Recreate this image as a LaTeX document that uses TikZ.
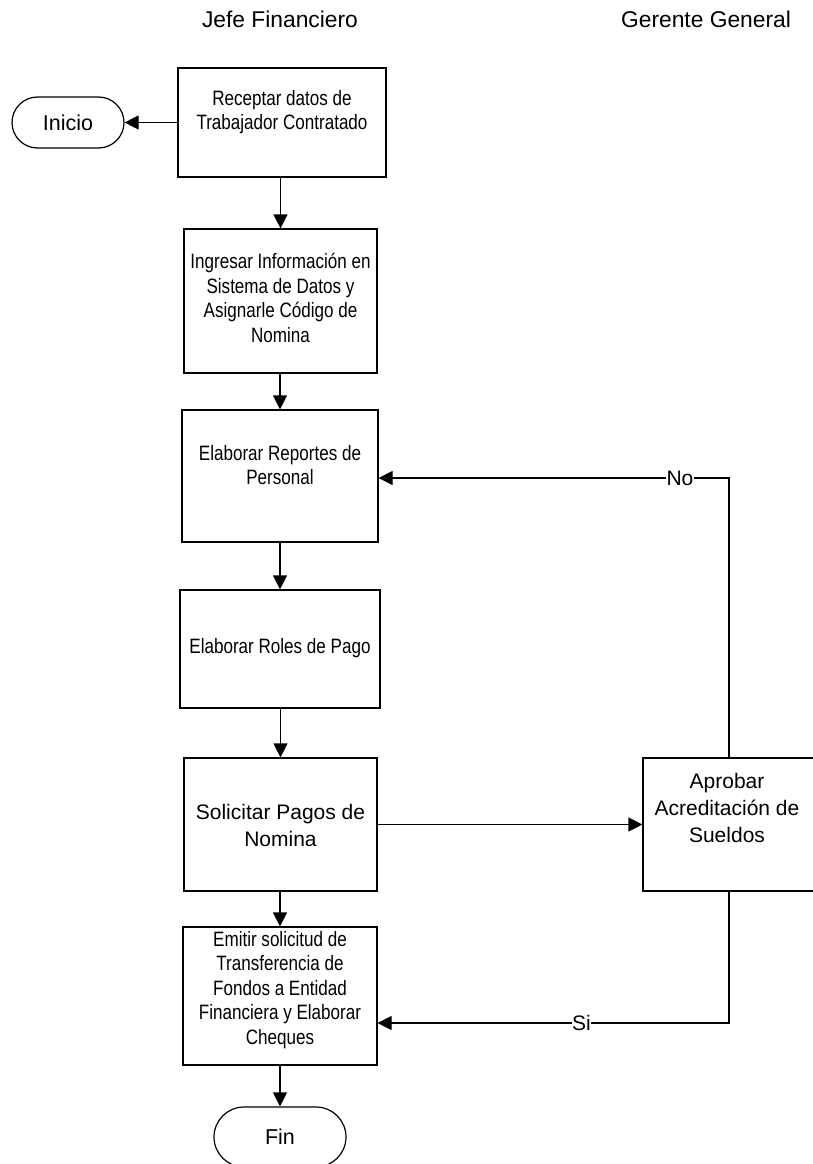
\documentclass[tikz,border=0pt]{standalone}
\usepackage{fontspec}
\setmainfont{Liberation Sans}
\newfontfamily\narrowfont{Liberation Sans}[FakeStretch=0.82]
\usetikzlibrary{arrows.meta}
\begin{document}
\begin{tikzpicture}[x=1pt,y=-1pt,
  line width=1.2pt,
  stepbox/.style={draw, rectangle, inner sep=0pt},
  term/.style={draw, rectangle, rounded corners=#1, inner sep=0pt},
  ntext/.style={align=center, inner sep=0pt, font=\narrowfont\fontsize{20.8}{24.5}\selectfont},
  wtext/.style={align=center, inner sep=0pt, font=\fontsize{21}{27}\selectfont},
  head/.style={inner sep=0pt, font=\fontsize{22.8}{26}\selectfont},
  lbl/.style={fill=white, inner sep=0.5pt, font=\fontsize{21}{24}\selectfont},
  flow/.style={-{Triangle[length=14pt,width=14pt]}}]
\useasboundingbox (0,0) rectangle (813,1164);

% lane headings
\node[head] (hjefe) at (280,19) {Jefe Financiero};
\node[head] (hger) at (706,19) {Gerente General};

% process boxes (Jefe Financiero)
\node[stepbox, minimum width=208pt, minimum height=109pt] (b1) at (282,122.5) {};
\node[ntext] (t1) at (282,112) {Receptar datos de\\Trabajador Contratado};

\node[stepbox, minimum width=193pt, minimum height=144pt] (b2) at (280.5,301) {};
\node[ntext] (t2) at (280.5,298) {Ingresar Información en\\Sistema de Datos y\\Asignarle Código de\\Nomina};

\node[stepbox, minimum width=196pt, minimum height=132pt] (b3) at (280,476) {};
\node[ntext] (t3) at (280,465) {Elaborar Reportes de\\Personal};

\node[stepbox, minimum width=200pt, minimum height=118pt] (b4) at (280,649) {};
\node[ntext] (t4) at (280,648) {Elaborar Roles de Pago};

\node[stepbox, minimum width=193pt, minimum height=133pt] (b5) at (280.5,824.5) {};
\node[wtext] (t5) at (280.5,825) {Solicitar Pagos de\\Nomina};

\node[stepbox, minimum width=194pt, minimum height=138pt] (b6) at (280,996) {};
\node[ntext] (t6) at (280,990) {Emitir solicitud de\\Transferencia de\\Fondos a Entidad\\Financiera y Elaborar\\Cheques};

% approval box (Gerente General)
\node[stepbox, minimum width=172pt, minimum height=133pt] (ap) at (729,824.5) {};
\node[wtext] (tap) at (727,808) {Aprobar\\Acreditación de\\Sueldos};

% terminals
\node[term=25.5pt, minimum width=112pt, minimum height=51pt, font=\fontsize{21.5}{24}\selectfont] (ini) at (68,122.5) {Inicio};
\node[term=30pt, minimum width=132pt, minimum height=60pt, font=\fontsize{21.5}{24}\selectfont] (fin) at (280,1137) {Fin};

% main flow
\draw[flow] (b1.west) -- (ini.east);
\draw[flow] (b1.south -| b2.north) -- (b2.north);
\draw[flow] (b2.south) -- (b2.south -| b3.north) -- (b3.north);
\draw[flow] (b3.south) -- (b4.north);
\draw[flow] (b4.south) -- (b4.south -| b5.north) -- (b5.north);
\draw[flow] (b5.south) -- (b5.south -| b6.north) -- (b6.north);
\draw[flow] (b6.south) -- (fin.north);
\draw[flow] (b5.east) -- (ap.west |- b5.east);

% decision outcomes
\coordinate (noc2) at (ap.north |- 0,478);
\draw[flow] (ap.north) -- (noc2) -- node[lbl, pos=0.14] (lno) {No} (b3.east |- noc2);
\coordinate (sic) at (ap.south |- 0,1023);
\draw[flow] (ap.south) -- (sic) -- node[lbl, pos=0.42] (lsi) {Si} (b6.east |- sic);
\end{tikzpicture}
\end{document}
